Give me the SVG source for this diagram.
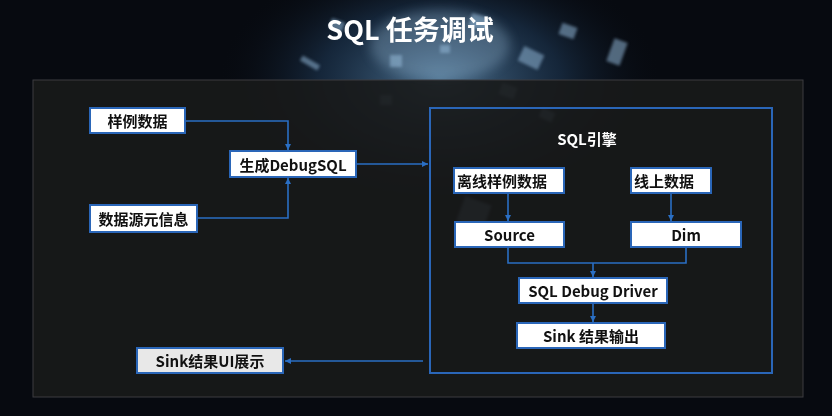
<svg xmlns="http://www.w3.org/2000/svg" width="832" height="416" viewBox="0 0 832 416">
<defs>
<filter id="blur" x="-50%" y="-50%" width="200%" height="200%"><feGaussianBlur stdDeviation="6"/></filter>
<filter id="blur2" x="-50%" y="-50%" width="200%" height="200%"><feGaussianBlur stdDeviation="1.5"/></filter>
<radialGradient id="glow" cx="0.5" cy="0.5" r="0.5">
<stop offset="0" stop-color="#6a9cc4" stop-opacity="0.7"/>
<stop offset="0.55" stop-color="#2a5078" stop-opacity="0.4"/>
<stop offset="1" stop-color="#0a0f18" stop-opacity="0"/>
</radialGradient>
<marker id="arr" markerWidth="8" markerHeight="8" refX="6" refY="4" orient="auto" markerUnits="userSpaceOnUse">
<path d="M0,1 L6,4 L0,7 z" fill="#2a6fc4"/>
</marker>
<style>
.node rect{fill:#ffffff;stroke:#2a66b8;stroke-width:2}
.node text{font-family:"Noto Sans CJK SC","Liberation Sans",sans-serif;font-weight:700;font-size:15px;fill:#111;text-anchor:middle;dominant-baseline:central}
.node text.l{text-anchor:start}
.conn{fill:none;stroke:#2a6fc4;stroke-width:1.6}
.wt{font-family:"Noto Sans CJK SC","Liberation Sans",sans-serif;font-weight:700;fill:#ffffff;text-anchor:middle;dominant-baseline:central}
</style>
</defs>
<rect width="832" height="416" fill="#070a10"/>
<g id="bg-glow">
<ellipse cx="440" cy="80" rx="220" ry="130" fill="url(#glow)"/>
<g filter="url(#blur2)" fill="#8fb4d4" opacity="0.55">
<rect x="330" y="20" width="14" height="10" transform="rotate(20 337 25)"/>
<rect x="470" y="15" width="18" height="14" transform="rotate(15 479 22)"/>
<rect x="520" y="50" width="22" height="16" transform="rotate(25 531 58)"/>
<rect x="390" y="55" width="12" height="12"/>
<rect x="440" y="45" width="10" height="8"/>
<rect x="560" y="25" width="16" height="12" transform="rotate(20 568 31)"/>
<rect x="300" y="60" width="20" height="6" transform="rotate(30 310 63)"/>
<rect x="610" y="40" width="14" height="24" transform="rotate(20 617 52)"/>
<rect x="500" y="85" width="16" height="12" transform="rotate(20 508 91)"/>
<rect x="380" y="95" width="12" height="10"/>
<rect x="460" y="200" width="28" height="26" transform="rotate(20 474 213)"/>
<rect x="540" y="110" width="14" height="10" transform="rotate(25 547 115)"/>
</g>
<ellipse cx="440" cy="45" rx="70" ry="35" fill="#a0c4e0" opacity="0.3" filter="url(#blur)"/>
</g>
<text class="wt" x="410" y="28" font-size="27">SQL 任务调试</text>
<rect id="panel" x="33" y="80" width="770" height="317" fill="#18191a" fill-opacity="0.9" stroke="#3c3d40" stroke-width="1"/>
<g id="engine">
<rect x="430" y="108" width="342" height="265" fill="none" stroke="#2a66b8" stroke-width="2"/>
<text class="wt" x="587" y="138" font-size="15">SQL引擎</text>
</g>
<g id="connectors">
<path class="conn" d="M185,121 H288 V150" marker-end="url(#arr)"/>
<path class="conn" d="M197,218 H288 V178" marker-end="url(#arr)"/>
<path class="conn" d="M356,164 H428" marker-end="url(#arr)"/>
<path class="conn" d="M508,193 V221" marker-end="url(#arr)"/>
<path class="conn" d="M671,193 V221" marker-end="url(#arr)"/>
<path class="conn" d="M508,247 V263 H686 V247"/>
<path class="conn" d="M593,263 V277" marker-end="url(#arr)"/>
<path class="conn" d="M593,303 V322" marker-end="url(#arr)"/>
<path class="conn" d="M423,361 H285" marker-end="url(#arr)"/>
</g>
<g id="n-sample" class="node"><rect x="90" y="108" width="95" height="25"/><text x="137.5" y="120.5">样例数据</text></g>
<g id="n-gen" class="node"><rect x="230" y="151" width="126" height="26"/><text x="293" y="164">生成DebugSQL</text></g>
<g id="n-meta" class="node"><rect x="90" y="205" width="107" height="27"/><text x="143.5" y="218.5">数据源元信息</text></g>
<g id="n-offline" class="node"><rect x="454" y="168" width="110" height="25"/><text class="l" x="457" y="180.5">离线样例数据</text></g>
<g id="n-online" class="node"><rect x="631" y="168" width="80" height="25"/><text class="l" x="634" y="180.5">线上数据</text></g>
<g id="n-source" class="node"><rect x="455" y="222" width="109" height="25"/><text x="509.5" y="234.5">Source</text></g>
<g id="n-dim" class="node"><rect x="631" y="222" width="110" height="25"/><text x="686" y="234.5">Dim</text></g>
<g id="n-driver" class="node"><rect x="519" y="278" width="148" height="25"/><text x="593" y="290.5">SQL Debug Driver</text></g>
<g id="n-sink" class="node"><rect x="517" y="323" width="148" height="25"/><text x="591" y="335.5">Sink 结果输出</text></g>
<g id="n-ui" class="node"><rect x="137" y="348" width="146" height="25" style="fill:#e8e8e8"/><text x="210" y="360.5">Sink结果UI展示</text></g>
</svg>
